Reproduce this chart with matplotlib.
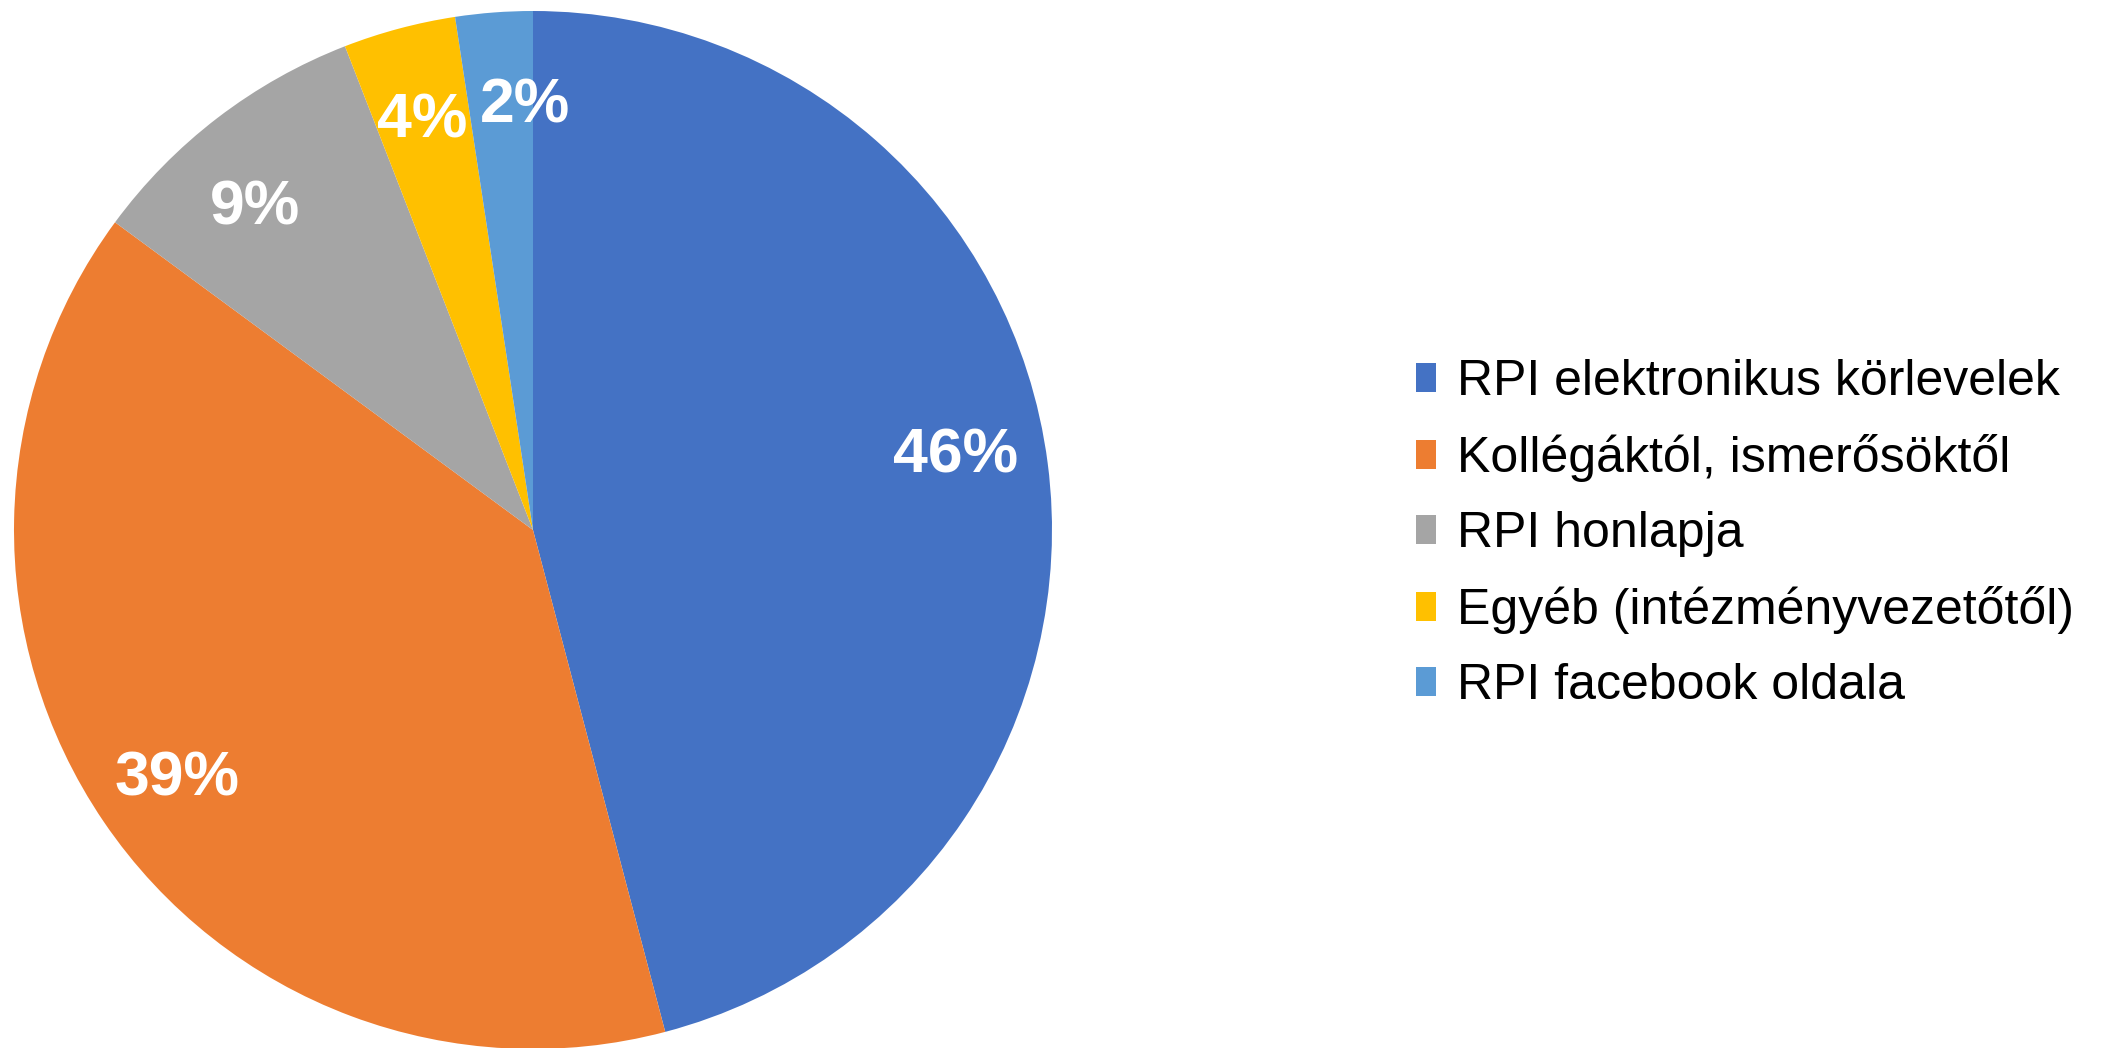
import numpy as np
import matplotlib.pyplot as plt
from matplotlib.transforms import offset_copy

plt.rcParams['font.family'] = ['Liberation Sans', 'DejaVu Sans']

categories = ['RPI elektronikus körlevelek', 'Kollégáktól, ismerősöktől',
              'RPI honlapja', 'Egyéb (intézményvezetőtől)', 'RPI facebook oldala']
shares = [45.9, 39.2, 9.0, 3.5, 2.4]
pct_labels = ['46%', '39%', '9%', '4%', '2%']
colors = ['#4472C4', '#ED7D31', '#A5A5A5', '#FFC000', '#5B9BD5']

W, H = 2121, 1048
fig = plt.figure(figsize=(W / 100, H / 100), dpi=100)
cx, cy, r = 533, 530, 519
ax = fig.add_axes([(cx - r) / W, (H - cy - r) / H, 2 * r / W, 2 * r / H])

wedges, _ = ax.pie(shares, colors=colors, startangle=90, counterclock=False,
                   radius=1, wedgeprops=dict(linewidth=0))
ax.set_xlim(-1, 1)
ax.set_ylim(-1, 1)
ax.set_aspect('equal')
ax.axis('off')

# percentage labels near the middle of each wedge (small nudges like excel)
nudge = [3.5, 0, 2.7, 0, -3.2]
trans = offset_copy(ax.transData, fig=fig, x=0, y=-5, units='points')
for w, lab, dn in zip(wedges, pct_labels, nudge):
    ang = np.deg2rad((w.theta1 + w.theta2) / 2 + dn)
    ax.text(0.83 * np.cos(ang), 0.83 * np.sin(ang), lab, color='white',
            fontsize=45, fontweight='bold', ha='center', va='center',
            transform=trans)

fig.legend(wedges, categories, loc='center left',
           bbox_to_anchor=(1416 / W, 0.490), frameon=False, fontsize=36,
           borderpad=0, borderaxespad=0, labelspacing=0.58,
           handlelength=0.4, handleheight=0.52, handletextpad=0.42)

fig.savefig('out.png', dpi=100)
